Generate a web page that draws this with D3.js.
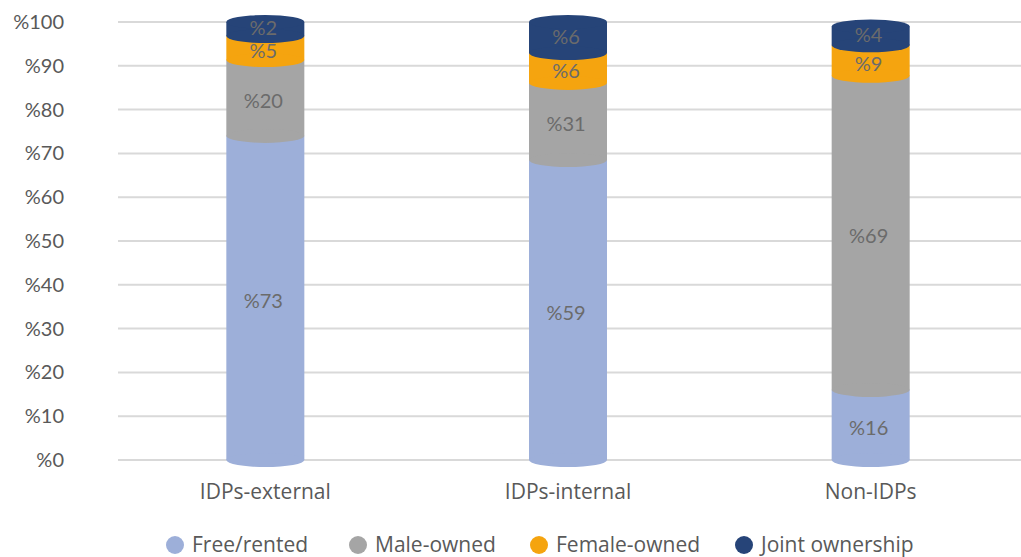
<!DOCTYPE html>
<html>
<head>
<meta charset="utf-8">
<script src="https://cdn.jsdelivr.net/npm/d3@7"></script>
<style>
  body { margin: 0; background: #fff; }
  svg { display: block; }
</style>
</head>
<body>
<script>
// categories and series
var groups = ["IDPs-external", "IDPs-internal", "Non-IDPs"];
var seriesNames = ["Free/rented", "Male-owned", "Female-owned", "Joint ownership"];
var colors = ["#9dafd9", "#a5a5a5", "#f5a40f", "#264478"];

// segment heights as drawn (percent of axis), one array per series
var freeRented = [74, 68.5, 16];
var maleOwned = [17.3, 17.6, 71.7];
var femaleOwned = [5.5, 6.8, 7];
var jointOwned = [3.2, 7.1, 4.3];

// data labels as printed on the bars
var freeLabels = ["%73", "%59", "%16"];
var maleLabels = ["%20", "%31", "%69"];
var femaleLabels = ["%5", "%6", "%9"];
var jointLabels = ["%2", "%6", "%4"];

var yTicks = [0, 10, 20, 30, 40, 50, 60, 70, 80, 90, 100];

var w = 1021, h = 557;
var svg = d3.select("body").append("svg").attr("width", w).attr("height", h);

var x = d3.scaleBand().domain(groups).range([114, 1022]).paddingInner(0.66).paddingOuter(0.33);
var y = d3.scaleLinear().domain([0, 100]).range([460, 22]);

// gridlines
svg.append("g").selectAll("line")
  .data(yTicks)
  .enter().append("line")
    .attr("x1", 118).attr("x2", w)
    .attr("y1", function(d) { return y(d); })
    .attr("y2", function(d) { return y(d); })
    .style("stroke", "#d9d9d9")
    .style("stroke-width", 2);

// y tick labels
svg.append("g").selectAll("text")
  .data(yTicks)
  .enter().append("text")
    .attr("x", 64)
    .attr("y", function(d) { return y(d); })
    .attr("dy", "0.35em")
    .style("text-anchor", "end")
    .style("font-family", "Lato")
    .style("font-size", "20px")
    .style("fill", "#595959")
    .text(function(d) { return "%" + d; });

// build stacked rows
var values = [freeRented, maleOwned, femaleOwned, jointOwned];
var labels = [freeLabels, maleLabels, femaleLabels, jointLabels];
var segs = [];
groups.forEach(function(g, gi) {
  var base = 0;
  values.forEach(function(arr, si) {
    segs.push({ group: g, s: si, y0: base, y1: base + arr[gi], label: labels[si][gi], top: si == values.length - 1 });
    base += arr[gi];
  });
});

var bw = 78;
var ry = 7;
var bars = svg.append("g");

// draw bottom-up so each segment's bottom ellipse covers the one below
segs.forEach(function(d) {
  var cx = x(d.group) + x.bandwidth() / 2;
  var gEl = bars.append("g");
  gEl.append("rect")
    .attr("x", cx - bw / 2)
    .attr("y", y(d.y1))
    .attr("width", bw)
    .attr("height", y(d.y0) - y(d.y1))
    .style("fill", colors[d.s]);
  gEl.append("ellipse")
    .attr("cx", cx).attr("cy", y(d.y0))
    .attr("rx", bw / 2).attr("ry", ry)
    .style("fill", colors[d.s]);
  if (d.top) {
    gEl.append("ellipse")
      .attr("cx", cx).attr("cy", y(d.y1))
      .attr("rx", bw / 2).attr("ry", ry)
      .style("fill", colors[d.s]);
  }
});

// value labels
bars.selectAll(".vlabel")
  .data(segs)
  .enter().append("text")
    .attr("class", "vlabel")
    .attr("x", function(d) { return x(d.group) + x.bandwidth() / 2 - 2; })
    .attr("y", function(d) { return (y(d.y0) + y(d.y1)) / 2 + (d.top ? -1 : 3); })
    .attr("dy", "0.35em")
    .style("text-anchor", "middle")
    .style("font-family", "Lato")
    .style("font-size", "20px")
    .style("fill", "#6b6b6b")
    .text(function(d) { return d.label; });

// x axis labels
svg.append("g").selectAll("text")
  .data(groups)
  .enter().append("text")
    .attr("x", function(d) { return x(d) + x.bandwidth() / 2; })
    .attr("y", 492)
    .attr("dy", "0.35em")
    .style("text-anchor", "middle")
    .style("font-family", "Open Sans")
    .style("font-size", "21px")
    .style("fill", "#595959")
    .text(function(d) { return d; });

// legend
var legendX = [175, 358, 539, 744];
var legend = svg.append("g").selectAll("g")
  .data(seriesNames)
  .enter().append("g")
    .attr("transform", function(d, i) { return "translate(" + legendX[i] + ",545)"; });
legend.append("circle")
  .attr("r", 9)
  .style("fill", function(d, i) { return colors[i]; });
legend.append("text")
  .attr("x", 17)
  .attr("dy", "0.35em")
  .style("font-family", "Open Sans")
  .style("font-size", "21px")
  .style("fill", "#595959")
  .text(function(d) { return d; });
</script>
</body>
</html>
